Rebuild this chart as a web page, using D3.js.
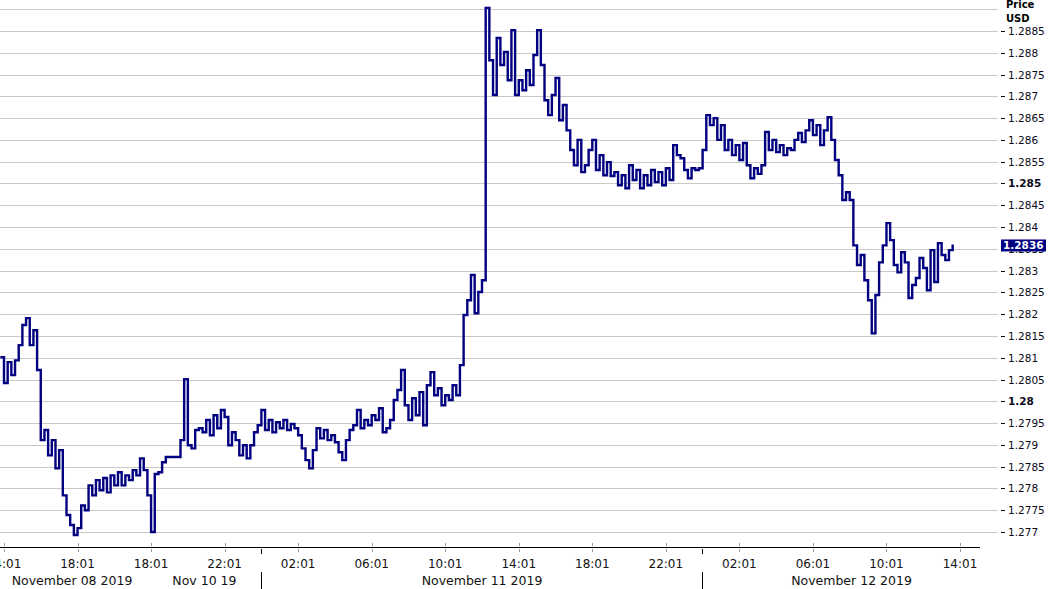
<!DOCTYPE html>
<html>
<head>
<meta charset="utf-8">
<script src="https://cdn.jsdelivr.net/npm/d3@7"></script>
<style>
  html, body { margin: 0; padding: 0; background: #fff; }
  svg { display: block; font-family: "DejaVu Sans", Verdana, sans-serif; }
</style>
</head>
<body>
<svg id="chart" width="1048" height="589"></svg>
<script>
// ---- DATA ----
// Trading-hour offset (weekend compressed) of first sample, and sampling step (hours)
const startHour = -0.2;
const stepHours = 0.2;
// GBP/USD price samples
const prices = [
  1.28101,1.28042,1.28090,1.28060,1.28094,1.28129,1.28175,1.28191,1.28129,1.28163,
  1.28072,1.27911,1.27934,1.27876,1.27911,1.27846,1.27888,1.27784,1.27739,1.27716,
  1.27693,1.27709,1.27761,1.27750,1.27807,1.27784,1.27819,1.27796,1.27824,1.27791,
  1.27830,1.27807,1.27837,1.27807,1.27830,1.27819,1.27842,1.27830,1.27869,1.27842,
  1.27784,1.27700,1.27833,1.27837,1.27860,1.27872,1.27872,1.27872,1.27872,1.27911,
  1.28051,1.27899,1.27892,1.27934,1.27938,1.27929,1.27957,1.27922,1.27968,1.27938,
  1.27980,1.27964,1.27899,1.27929,1.27911,1.27876,1.27899,1.27869,1.27899,1.27929,
  1.27945,1.27980,1.27934,1.27957,1.27929,1.27952,1.27938,1.27957,1.27934,1.27948,
  1.27938,1.27922,1.27892,1.27865,1.27846,1.27888,1.27938,1.27915,1.27934,1.27911,
  1.27922,1.27906,1.27883,1.27865,1.27911,1.27934,1.27945,1.27980,1.27938,1.27957,
  1.27945,1.27968,1.27957,1.27984,1.27929,1.27938,1.27957,1.28003,1.28026,1.28072,
  1.27991,1.27957,1.28007,1.27968,1.28021,1.27945,1.28037,1.28067,1.28014,1.28030,
  1.27991,1.28014,1.28003,1.28037,1.28014,1.28083,1.28198,1.28232,1.28290,1.28202,
  1.28251,1.28278,1.28903,1.28783,1.28703,1.28834,1.28772,1.28802,1.28737,1.28852,
  1.28703,1.28737,1.28714,1.28760,1.28726,1.28795,1.28852,1.28772,1.28691,1.28657,
  1.28703,1.28742,1.28645,1.28680,1.28622,1.28577,1.28542,1.28600,1.28526,1.28542,
  1.28577,1.28600,1.28531,1.28565,1.28519,1.28549,1.28517,1.28526,1.28496,1.28519,
  1.28489,1.28542,1.28508,1.28531,1.28489,1.28519,1.28496,1.28531,1.28503,1.28526,
  1.28496,1.28535,1.28508,1.28588,1.28565,1.28558,1.28531,1.28512,1.28535,1.28531,
  1.28535,1.28577,1.28657,1.28634,1.28650,1.28600,1.28634,1.28577,1.28600,1.28565,
  1.28588,1.28554,1.28593,1.28542,1.28512,1.28535,1.28522,1.28542,1.28618,1.28577,
  1.28600,1.28572,1.28588,1.28565,1.28581,1.28577,1.28600,1.28616,1.28595,1.28622,
  1.28645,1.28611,1.28634,1.28588,1.28622,1.28652,1.28600,1.28554,1.28519,1.28462,
  1.28480,1.28462,1.28358,1.28313,1.28336,1.28278,1.28232,1.28156,1.28244,1.28319,
  1.28358,1.28409,1.28370,1.28313,1.28296,1.28342,1.28319,1.28237,1.28267,1.28283,
  1.28329,1.28306,1.28255,1.28347,1.28274,1.28363,1.28336,1.28324,1.28347,1.28360
];
const lastPrice = 1.2836;

// Y axis (price) ticks
const yGridValues = [1.277,1.2775,1.278,1.2785,1.279,1.2795,1.28,1.2805,1.281,1.2815,1.282,1.2825,
                     1.283,1.2835,1.284,1.2845,1.285,1.2855,1.286,1.2865,1.287,1.2875,1.288,1.2885,1.289];
const yTickValues = [1.277,1.2775,1.278,1.2785,1.279,1.2795,1.28,1.2805,1.281,1.2815,1.282,1.2825,
                     1.283,1.2835,1.284,1.2845,1.285,1.2855,1.286,1.2865,1.287,1.2875,1.288,1.2885];
const yTickLabels = ["1.277","1.2775","1.278","1.2785","1.279","1.2795","1.28","1.2805","1.281","1.2815",
                     "1.282","1.2825","1.283","1.2835","1.284","1.2845","1.285","1.2855","1.286","1.2865",
                     "1.287","1.2875","1.288","1.2885"];
const yBoldLabels = ["1.28","1.285"];

// X axis (trading hours since Nov 08 14:01, weekend compressed)
const xTickHours = [0,4,8,12,16,20,24,28,32,36,40,44,48,52];
const xTickLabels = ["14:01","18:01","18:01","22:01","02:01","06:01","10:01","14:01","18:01","22:01","02:01","06:01","10:01","14:01"];
const daySeparatorHours = [13.98, 37.98];
const dateLabels = ["November 08 2019","Nov 10 19","November 11 2019","November 12 2019"];
const dateLabelHours = [3.7, 10.9, 26.0, 46.1];

// ---- LAYOUT ----
const svg = d3.select("#chart");
const x = d3.scaleLinear().domain([0, 52]).range([4, 960]);
const y = d3.scaleLinear().domain([1.277, 1.2885]).range([532, 31]);
const gridRight = 998;
const axisY = 547.5;
const axisRight = 980;

// gridlines
svg.append("g").selectAll("line").data(yGridValues).join("line")
  .attr("x1", 0).attr("x2", gridRight)
  .attr("y1", d => Math.round(y(d)) + 0.5).attr("y2", d => Math.round(y(d)) + 0.5)
  .attr("stroke", "#c8c8c8").attr("stroke-width", 1);

// right axis ticks + labels
const yAx = svg.append("g");
yAx.selectAll("line").data(yTickValues).join("line")
  .attr("x1", 1001).attr("x2", 1005)
  .attr("y1", d => Math.round(y(d)) + 0.5).attr("y2", d => Math.round(y(d)) + 0.5)
  .attr("stroke", "#000").attr("stroke-width", 1);
yAx.selectAll("text").data(yTickValues).join("text")
  .attr("x", 1008).attr("y", d => Math.round(y(d)) + 4)
  .attr("font-size", "10.5px")
  .attr("font-weight", (d, i) => yBoldLabels.includes(yTickLabels[i]) ? "bold" : "normal")
  .attr("fill", "#0a0a1a")
  .text((d, i) => yTickLabels[i]);

// header
svg.append("text").attr("x", 1006).attr("y", 8).attr("font-size", "10px").attr("font-weight", "bold").text("Price");
svg.append("text").attr("x", 1006).attr("y", 22).attr("font-size", "10px").attr("font-weight", "bold").text("USD");

// x axis line
svg.append("line").attr("x1", 0).attr("x2", axisRight).attr("y1", axisY).attr("y2", axisY)
  .attr("stroke", "#000").attr("stroke-width", 1);

// x ticks
const xAx = svg.append("g");
xAx.selectAll("line").data(xTickHours).join("line")
  .attr("x1", d => Math.round(x(d)) + 0.5).attr("x2", d => Math.round(x(d)) + 0.5)
  .attr("y1", 543).attr("y2", 553)
  .attr("stroke", "#999").attr("stroke-width", 1).attr("stroke-dasharray", "3,3");
xAx.selectAll("text").data(xTickHours).join("text")
  .attr("x", d => x(d)).attr("y", 568)
  .attr("text-anchor", "middle").attr("font-size", "12px").attr("fill", "#111")
  .text((d, i) => xTickLabels[i]);

// day separators
const sep = svg.append("g");
sep.selectAll("line.s1").data(daySeparatorHours).join("line").attr("class", "s1")
  .attr("x1", d => Math.round(x(d)) + 0.5).attr("x2", d => Math.round(x(d)) + 0.5)
  .attr("y1", 549).attr("y2", 554).attr("stroke", "#000");
sep.selectAll("line.s2").data(daySeparatorHours).join("line").attr("class", "s2")
  .attr("x1", d => Math.round(x(d)) + 0.5).attr("x2", d => Math.round(x(d)) + 0.5)
  .attr("y1", 572).attr("y2", 589).attr("stroke", "#000");

// date labels
svg.append("g").selectAll("text").data(dateLabels).join("text")
  .attr("x", (d, i) => x(dateLabelHours[i])).attr("y", 585)
  .attr("text-anchor", "middle").attr("font-size", "12.5px").attr("fill", "#111")
  .text(d => d);

// price line
const series = prices.map((p, i) => ({ t: startHour + i * stepHours, p }));
const line = d3.line().x(d => x(d.t)).y(d => y(d.p)).curve(d3.curveStepAfter);
svg.append("path").datum(series)
  .attr("d", line).attr("fill", "none")
  .attr("stroke", "#000080").attr("stroke-width", 2.4).attr("stroke-linejoin", "miter");

// last price marker
const ly = y(lastPrice);
svg.append("rect").attr("x", 1001).attr("y", ly - 5).attr("width", 45).attr("height", 12).attr("fill", "#000080");
svg.append("text").attr("x", 1003).attr("y", ly + 5).attr("font-size", "10.5px").attr("font-weight", "bold")
  .attr("fill", "#fff").text(lastPrice.toFixed(4));
</script>
</body>
</html>
